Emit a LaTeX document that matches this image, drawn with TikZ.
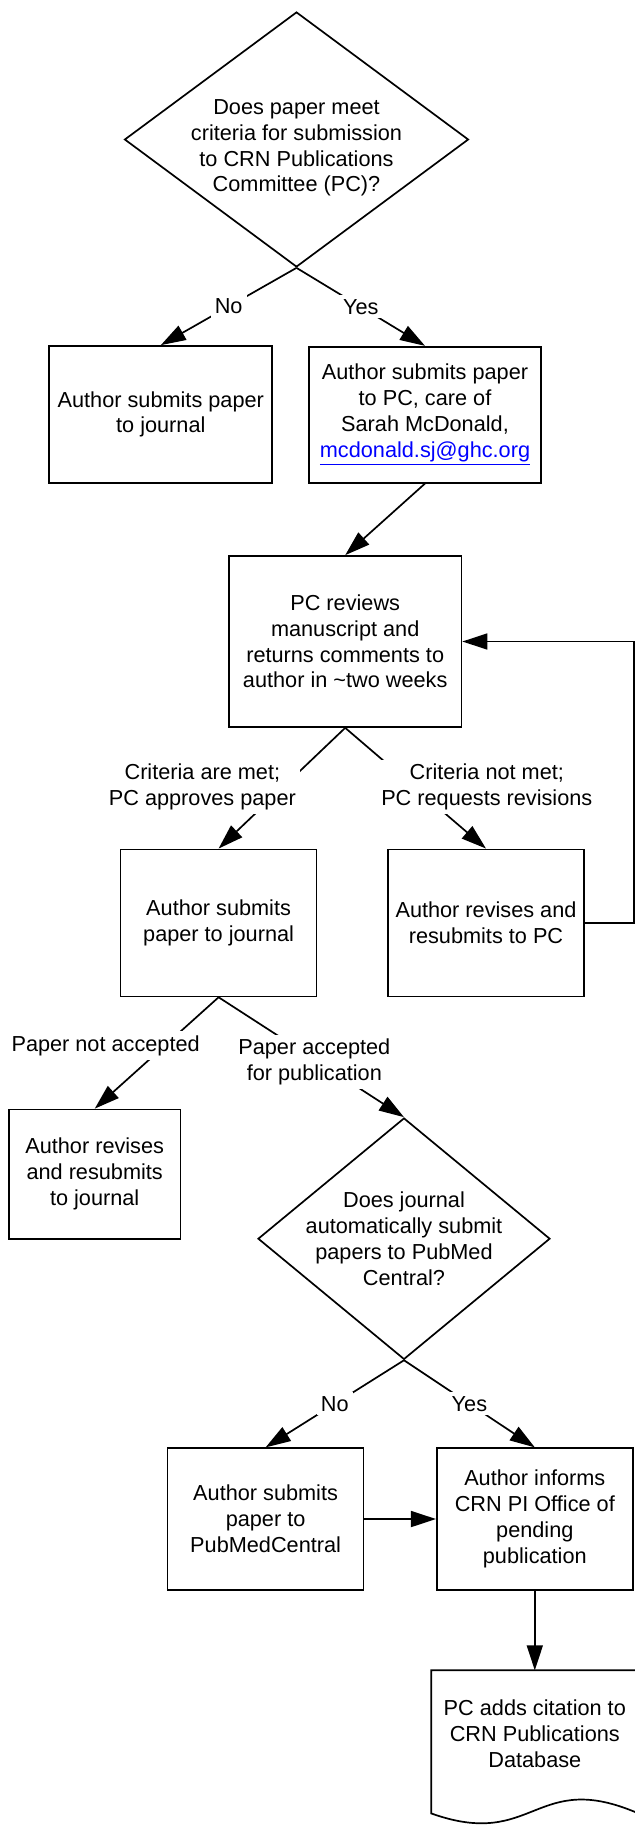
\documentclass[tikz,border=0pt]{standalone}
\usepackage{fontspec}
\setmainfont{Liberation Sans}
\usepackage{tikz}
\usetikzlibrary{shapes.geometric, arrows.meta, positioning, calc}

\begin{document}
\begin{tikzpicture}[x=0.5pt, y=-0.5pt,
        every node/.style={font=\fontsize{10.85pt}{12.9pt}\selectfont, align=center},
        decision/.style={draw, diamond, line width=0.85pt, inner sep=-5pt},
        process/.style={draw, rectangle, line width=0.85pt, inner sep=2pt},
        lbl/.style={fill=white, inner sep=2pt},
        arr/.style={-{Triangle[length=12.5pt, width=8pt]}, line width=0.85pt}]
        \useasboundingbox (0,0) rectangle (635,1825);

        % Nodes
        \node (q1) [decision, aspect=1.33, minimum width=172pt, minimum height=127.5pt] at (296.5,139.5) {\rule{0pt}{16pt}Does paper meet\\criteria for submission\\to CRN Publications\\Committee (PC)?};
        \node (bjour) [process, minimum width=111.5pt, minimum height=68.4pt] at (160.8,414.4) {Author submits paper\\to journal};
        \node (bpc) [process, minimum width=116.3pt, minimum height=68pt] at (425,414.7) {Author submits paper\\to PC, care of\\Sarah McDonald,\\\textcolor{blue}{\underline{mcdonald.sj@ghc.org}}};
        \node (review) [process, minimum width=116.3pt, minimum height=85.5pt] at (345.2,641.5) {PC reviews\\manuscript and\\returns comments to\\author in \textasciitilde two weeks};
        \node (approve) [process, minimum width=98pt, minimum height=73.5pt] at (218.6,922.9) {Author submits\\paper to journal};
        \node (revise) [process, minimum width=98.2pt, minimum height=73.5pt] at (486,922.9) {Author revises and\\resubmits to PC};
        \node (rejour) [process, minimum width=85.9pt, minimum height=64.6pt] at (94.7,1174.1) {Author revises\\and resubmits\\to journal};
        \node (q2) [decision, aspect=1.21, minimum width=146pt, minimum height=120.7pt] at (404,1238.7) {Does journal\\automatically submit\\papers to PubMed\\Central?};
        \node (pmc) [process, minimum width=98pt, minimum height=70.8pt] at (265.6,1519) {Author submits\\paper to\\PubMedCentral};
        \node (inform) [process, minimum width=98pt, minimum height=70.8pt] at (534.8,1519) {Author informs\\CRN PI Office of\\pending\\publication};
        \node (db) [minimum width=103.2pt, minimum height=63pt] at (534.8,1733.7) {PC adds citation to\\CRN Publications\\Database};

        % Document outline
        \draw[line width=0.85pt] (db.north west) -- (db.north east) -- ($(db.south east)+(0,16.3)$)
            .. controls ($(db.south)+(0,-28.7)$) and ($(db.south)+(0,53.3)$) .. ($(db.south west)+(0,16.3)$) -- cycle;

        % Arrows
        \draw[arr] (q1.south) -- node[lbl] {No} (bjour.north);
        \draw[arr] (q1.south) -- node[lbl] {Yes} (bpc.north);
        \draw[arr] (bpc.south) -- (review.north);

        \draw[arr] (review.south) -- node[lbl, pos=0.49, xshift=-40.4pt] {Criteria are met;\\PC approves paper} (approve.north);
        \draw[arr] (review.south) -- node[lbl, pos=0.49, xshift=36.3pt] {Criteria not met;\\PC requests revisions} (revise.north);
        \draw[arr] (revise.east) -- ++(48.6,0) |- (review.east);

        \draw[arr] (approve.south) -- node[lbl, pos=0.434, xshift=-29.6pt] {Paper not accepted} (rejour.north);
        \draw[arr] (approve.south) -- node[lbl, pos=0.538, xshift=-2pt] {Paper accepted\\for publication} (q2.north);

        \draw[arr] (q2.south) -- node[lbl] {No} (pmc.north);
        \draw[arr] (q2.south) -- node[lbl] {Yes} (inform.north);
        \draw[arr] (pmc) -- (inform);
        \draw[arr] (inform) -- (db);

    \end{tikzpicture}
\end{document}
